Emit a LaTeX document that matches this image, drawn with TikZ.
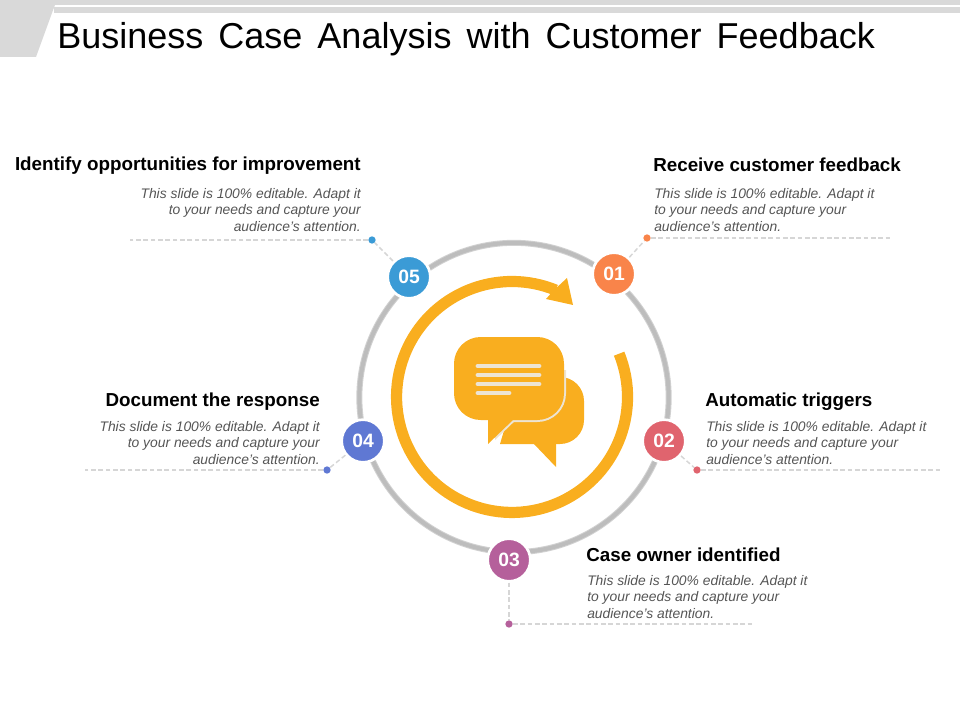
\documentclass[tikz,border=0pt]{standalone}
\usepackage{fontspec}
\setmainfont{Liberation Sans}
\usetikzlibrary{positioning}
\definecolor{ringgray}{HTML}{BDBDBD}
\definecolor{bargray}{HTML}{D9D9D9}
\definecolor{dashgray}{HTML}{D6D6D6}
\definecolor{bodygray}{HTML}{555555}
\definecolor{amber}{HTML}{F9AE1F}
\definecolor{cream}{HTML}{EDE4D3}
\definecolor{colA}{HTML}{F9844A}
\definecolor{colB}{HTML}{E0646E}
\definecolor{colC}{HTML}{B5609B}
\definecolor{colD}{HTML}{5F78D3}
\definecolor{colE}{HTML}{3B9BD6}
\tikzset{
  stepnum/.style={circle, draw=white, line width=2pt, fill=#1, text=white, minimum size=32pt, inner sep=0pt, font=\bfseries\fontsize{14.5}{16}\selectfont},
  stepdot/.style={circle, fill=#1, minimum size=5.5pt, inner sep=0pt},
  leader/.style={draw=dashgray, line width=1.1pt, dash pattern=on 3.5pt off 2pt},
  headtext/.style={inner sep=0pt, font=\bfseries\fontsize{14.1}{16}\selectfont},
  bodytext/.style={inner sep=0pt, text=bodygray, align=#1, font=\itshape\fontsize{10.4}{12.4}\selectfont},
  bubbleline/.style={draw=cream, line width=3.6pt, line cap=round}
}
\newcommand{\bodylines}{This slide is 100\% editable. Adapt it\\to your needs and capture your\\audience's attention.}
\newcommand{\titlegap}{\hspace{11.3pt}}
\begin{document}
\begin{tikzpicture}[x=0.75pt, y=-0.75pt]
	\useasboundingbox (0,0) rectangle (960,720);
	% header
	\fill[bargray] (0,0) -- (960,0) -- (960,5) -- (55,5) -- (52,13) -- (36,57) -- (0,57) -- cycle;
	\fill[bargray] (54,7) rectangle (960,13);
	\node (title) [anchor=base west, inner sep=0pt, font=\fontsize{27}{30}\selectfont] at (57,49) {Business\titlegap Case\titlegap Analysis\titlegap with\titlegap Customer\titlegap Feedback};
	% grey ring
	\draw[ringgray!70, line width=4.5pt] (514,397.5) circle [radius=116pt];
	\draw[ringgray, line width=3pt] (514,397.5) circle [radius=116pt];
	% turning arrow
	\draw[amber, line width=8.4pt] (619.1,353.7) arc [start angle=22, end angle=-292.3, radius=86.6pt];
	\fill[amber] (567,278) -- (573,305) -- (546,299) -- (553,291) -- cycle;
	% bubbles
	\fill[amber] (500,444) [rounded corners=18pt] -- (584,444) -- (584,377) -- (520,377) [sharp corners] -- cycle;
	\fill[amber] (533,443) -- (556,467) -- (556,443) -- cycle;
	\begin{scope}
		\clip (495,370) rectangle (590,450);
		\filldraw[cream, line width=3pt, rounded corners=20pt] (454,337) rectangle (564,420);
		\filldraw[cream, line width=3pt] (488,418) -- (488,444) -- (513,420) -- cycle;
	\end{scope}
	\fill[amber, rounded corners=20pt] (454,337) rectangle (564,420);
	\fill[amber] (488,415) -- (488,444) -- (513,420) -- (513,415) -- cycle;
	\draw[bubbleline] (478,366) -- (539,366);
	\draw[bubbleline] (478,375) -- (539,375);
	\draw[bubbleline] (478,384) -- (539,384);
	\draw[bubbleline] (478,393) -- (509,393);
	% numbered circles and their dots
	\node (n1) [stepnum=colA] at (614,274) {01};
	\node (n2) [stepnum=colB] at (664,441) {02};
	\node (n3) [stepnum=colC] at (509,560) {03};
	\node (n4) [stepnum=colD] at (363,441) {04};
	\node (n5) [stepnum=colE] at (409,277) {05};
	\node (d1) [stepdot=colA] at (647,238) {};
	\node (d2) [stepdot=colB] at (697,470) {};
	\node (d3) [stepdot=colC] at (509,624) {};
	\node (d4) [stepdot=colD] at (327,470) {};
	\node (d5) [stepdot=colE] at (372,240) {};
	\coordinate (e1) at (890,238);
	\coordinate (e2) at (942,470);
	\coordinate (e3) at (752,624);
	\coordinate (e4) at (85,470);
	\coordinate (e5) at (130,240);
	\foreach \i in {1,...,5} {
		\draw[leader] (n\i) -- (d\i);
		\draw[leader] (d\i) -- (e\i);
	}
	% labels
	\node (h1) [headtext, anchor=base west] at (653,172) {Receive customer feedback};
	\node (b1) [bodytext=left, anchor=north west] at (654,188) {\bodylines};
	\node (h2) [headtext, anchor=base west] at (705,406) {Automatic triggers};
	\node (b2) [bodytext=left, anchor=north west] at (706,421) {\bodylines};
	\node (h3) [headtext, anchor=base west] at (586,561) {Case owner identified};
	\node (b3) [bodytext=left, anchor=north west] at (587,575) {\bodylines};
	\node (h4) [headtext, anchor=base east] at (320,406) {Document the response};
	\node (b4) [bodytext=right, anchor=north east] at (320,421) {\bodylines};
	\node (h5) [headtext, anchor=base east] at (361,171) {Identify opportunities for improvement};
	\node (b5) [bodytext=right, anchor=north east] at (361,188) {\bodylines};
\end{tikzpicture}
\end{document}
